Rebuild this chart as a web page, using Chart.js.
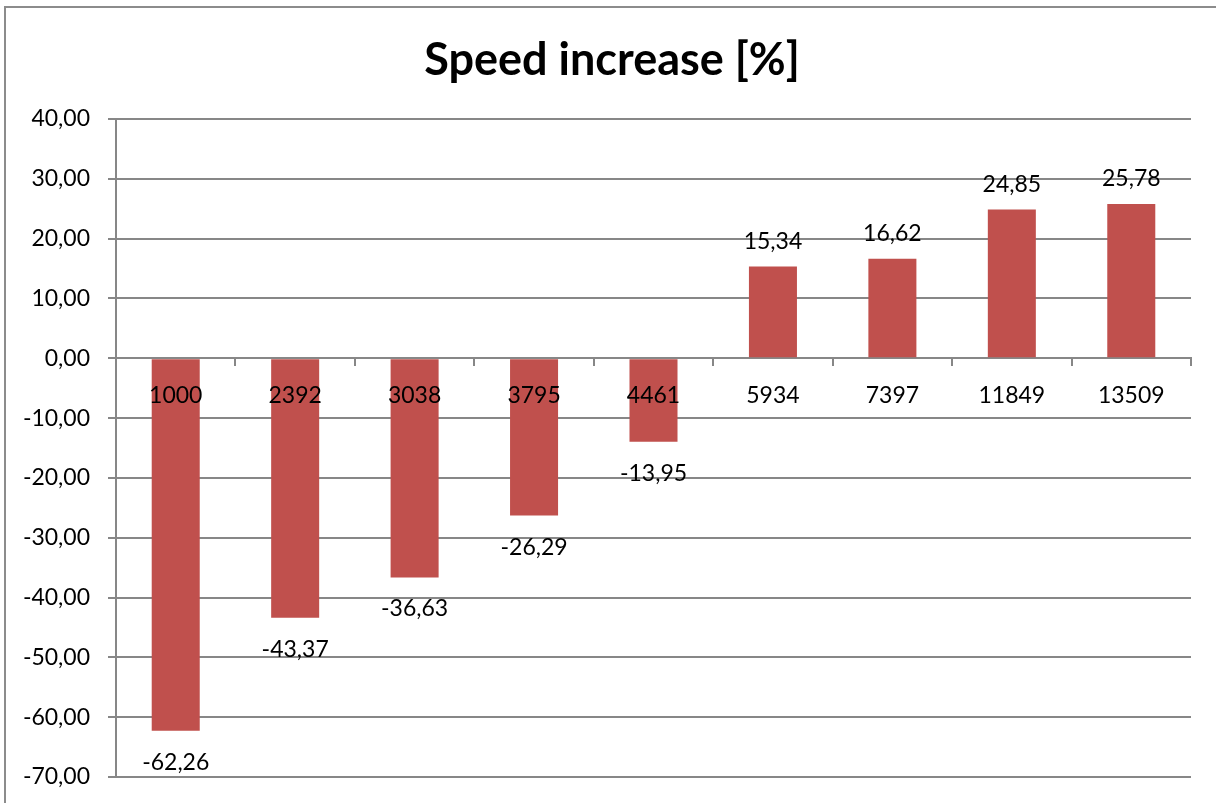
<!DOCTYPE html>
<html>
<head>
<meta charset="utf-8">
<script src="https://cdn.jsdelivr.net/npm/chart.js@4/dist/chart.umd.min.js"></script>
<style>
  html, body { margin: 0; padding: 0; background: #ffffff; }
  #wrap { width: 1216px; height: 803px; position: relative; }
</style>
</head>
<body>
<div id="wrap"><canvas id="chart"></canvas></div>
<script>
// Workload sizes along the x axis
const categories = ['1000', '2392', '3038', '3795', '4461', '5934', '7397', '11849', '13509'];
// Speed increase in percent for each size
const speedIncrease = [-62.26, -43.37, -36.63, -26.29, -13.95, 15.34, 16.62, 24.85, 25.78];
// Value axis range and step
const yMin = -70;
const yMax = 40;
const yStep = 10;

const FONT = 'Lato, "Open Sans", sans-serif';
const GRID = '#878787';

const fmt = v => v.toFixed(2).replace('.', ',');

// Outer frame of the chart object
const framePlugin = {
  id: 'frame',
  beforeDraw(chart) {
    const ctx = chart.ctx;
    ctx.save();
    ctx.strokeStyle = '#8c8c8c';
    ctx.lineWidth = 2;
    ctx.strokeRect(5, 7, 1400, 1000);
    ctx.restore();
  }
};

// Centre the title over the frame interior rather than the whole canvas
const titleSpan = {
  id: 'titleSpan',
  afterLayout(chart) {
    const t = chart.titleBlock;
    if (t) { t.left = 33; t.right = chart.chartArea.right; }
  }
};

// Value labels above positive bars and below negative bars
const valueLabels = {
  id: 'valueLabels',
  afterDraw(chart) {
    const ctx = chart.ctx;
    const meta = chart.getDatasetMeta(0);
    ctx.save();
    ctx.font = '23px ' + FONT;
    ctx.fillStyle = '#000000';
    ctx.textAlign = 'center';
    ctx.textBaseline = 'alphabetic';
    meta.data.forEach((bar, i) => {
      const v = chart.data.datasets[0].data[i];
      const y = v >= 0 ? bar.y - 18 : bar.y + 39;
      ctx.fillText(fmt(v), bar.x, y);
    });
    ctx.restore();
  }
};

new Chart(document.getElementById('chart'), {
  type: 'bar',
  data: {
    labels: categories,
    datasets: [{
      data: speedIncrease,
      backgroundColor: '#C0504D',
      borderWidth: 0,
      categoryPercentage: 1,
      barPercentage: 0.402
    }]
  },
  options: {
    responsive: true,
    maintainAspectRatio: false,
    animation: false,
    layout: { padding: { left: 0, right: 25, top: 0, bottom: 26 } },
    plugins: {
      legend: { display: false },
      tooltip: { enabled: false },
      title: {
        display: true,
        text: 'Speed increase [%]',
        color: '#000000',
        font: { family: FONT, size: 45, weight: 'bold', lineHeight: 1.2 },
        padding: { top: 33, bottom: 32 }
      }
    },
    scales: {
      x: {
        position: { y: 0 },
        offset: true,
        grid: {
          display: true,
          drawOnChartArea: false,
          drawTicks: true,
          tickLength: 7,
          color: GRID,
          lineWidth: 2,
          offset: true
        },
        border: { display: true, color: GRID, width: 2 },
        ticks: {
          z: 1,
          color: '#000000',
          font: { family: FONT, size: 23 },
          padding: 17,
          maxRotation: 0,
          autoSkip: false
        }
      },
      y: {
        min: yMin,
        max: yMax,
        afterFit(scale) {
          scale.width = 116;
          scale.paddingTop = 0;
          scale.paddingBottom = 0;
        },
        grid: {
          color: GRID,
          lineWidth: 2,
          tickLength: 8
        },
        border: { display: true, color: GRID, width: 2 },
        ticks: {
          stepSize: yStep,
          color: '#000000',
          font: { family: FONT, size: 23 },
          padding: 18,
          callback: v => fmt(v)
        }
      }
    }
  },
  plugins: [framePlugin, titleSpan, valueLabels]
});
</script>
</body>
</html>
